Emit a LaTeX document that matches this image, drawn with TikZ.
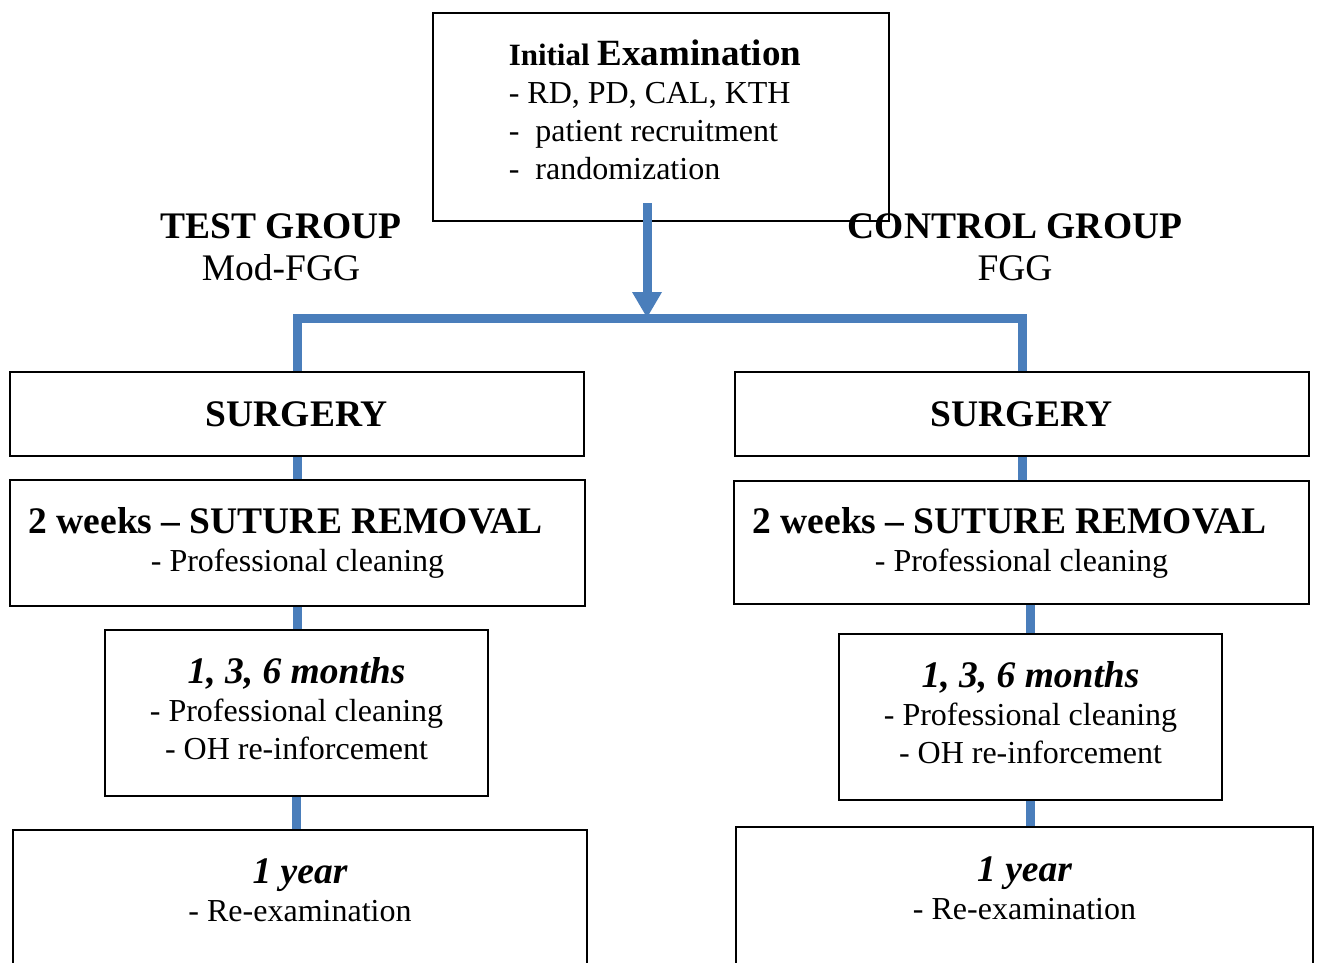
\documentclass[tikz,border=0pt]{standalone}
\usepackage{fontspec}
\setmainfont{Liberation Serif}
\usetikzlibrary{arrows.meta}

\definecolor{flowblue}{RGB}{74,126,187}
\newcommand{\headline}[1]{{\bfseries\fontsize{37.5}{38}\selectfont #1}}
\newcommand{\periodline}[1]{{\bfseries\itshape\fontsize{37.5}{38}\selectfont #1}}

\tikzset{
  stagebox/.style={draw=black, line width=1.6pt, align=center, inner sep=0pt,
    font=\fontsize{32}{38}\selectfont},
  grouplabel/.style={align=center, inner sep=0pt, font=\fontsize{37.5}{42}\selectfont},
  flow/.style={draw=flowblue, line width=9pt}
}

\begin{document}
\begin{tikzpicture}[x=1pt, y=-1pt]
\useasboundingbox (0,0) rectangle (1317,962);
\clip (0,0) rectangle (1317,962);

\node (init) at (661,117) [stagebox, align=left, text depth=14pt, minimum width=456pt, minimum height=208pt]
  {{\bfseries\fontsize{31}{38}\selectfont Initial} {\bfseries\fontsize{37}{38}\selectfont Examination\kern12pt}\\
   - RD, PD, CAL, KTH\\
   -\ \ patient recruitment\\
   -\ \ randomization};

\node (testlbl) at (281,247) [grouplabel] {{\bfseries TEST GROUP}\\Mod-FGG};
\node (ctrllbl) at (1015,247) [grouplabel] {{\bfseries CONTROL GROUP}\\FGG};

% test group
\node (surgL) at (297,414) [stagebox, minimum width=574pt, minimum height=84pt] {\headline{SURGERY}};
\node (sutL) at (297.5,543) [stagebox, minimum width=575pt, minimum height=126pt]
  {\headline{2 weeks – SUTURE REMOVAL\kern24pt}\\- Professional cleaning};
\node (monL) at (296.5,713) [stagebox, text depth=9pt, minimum width=383pt, minimum height=166pt]
  {\periodline{1, 3, 6 months}\\- Professional cleaning\\- OH re-inforcement};
\node (yearL) at (300,915) [stagebox, text depth=50pt, minimum width=574pt, minimum height=170pt]
  {\periodline{1 year}\\- Re-examination};

% control group
\node (surgR) at (1022,414) [stagebox, minimum width=574pt, minimum height=84pt] {\headline{SURGERY}};
\node (sutR) at (1021.5,542.5) [stagebox, minimum width=575pt, minimum height=123pt]
  {\headline{2 weeks – SUTURE REMOVAL\kern24pt}\\- Professional cleaning};
\node (monR) at (1030.5,717) [stagebox, text depth=9pt, minimum width=383pt, minimum height=166pt]
  {\periodline{1, 3, 6 months}\\- Professional cleaning\\- OH re-inforcement};
\node (yearR) at (1024.5,913.5) [stagebox, text depth=50pt, minimum width=577pt, minimum height=173pt]
  {\periodline{1 year}\\- Re-examination};

\coordinate (drop) at (647,203);
\coordinate (fork) at (647,318);

\draw [flow, -{Triangle[width=28pt, length=26pt]}] (drop) -- (fork);
\draw [flow] (surgL.north) |- (fork) -| (surgR.north);

\draw [flow] (surgL.south) -- (surgL.south |- sutL.north);
\draw [flow] (sutL.south) -- (sutL.south |- monL.north);
\draw [flow] (monL.south) -- (monL.south |- yearL.north);

\draw [flow] (surgR.south) -- (surgR.south |- sutR.north);
\draw [flow] (monR.north |- sutR.south) -- (monR.north);
\draw [flow] (monR.south) -- (monR.south |- yearR.north);
\end{tikzpicture}
\end{document}
